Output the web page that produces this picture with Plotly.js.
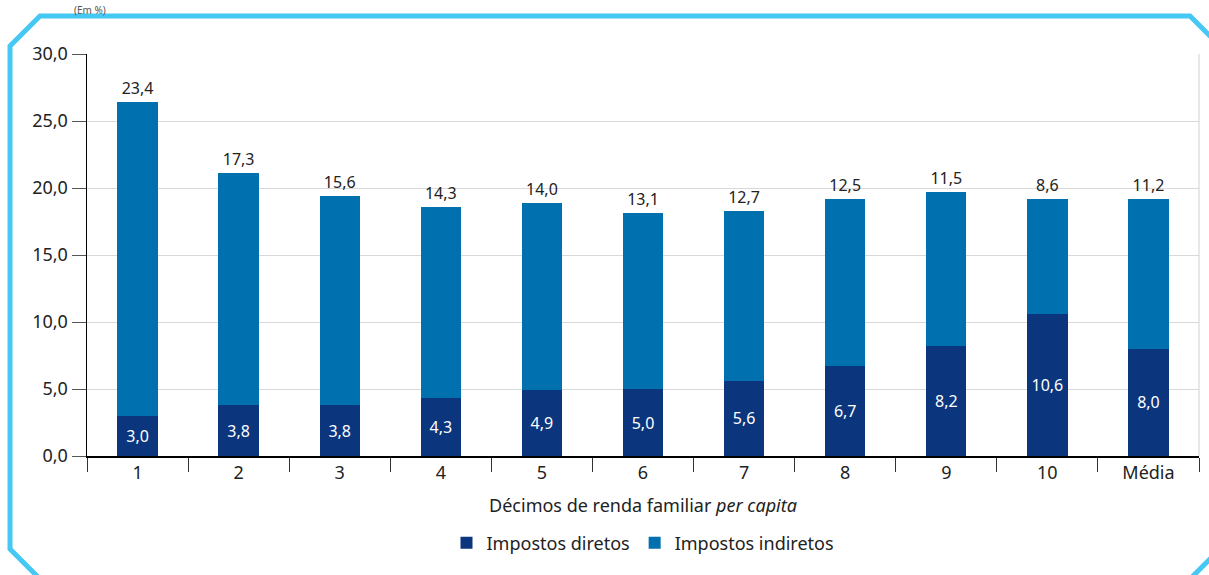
<!DOCTYPE html>
<html>
<head>
<meta charset="utf-8">
<script src="https://cdn.plot.ly/plotly-3.0.1.min.js"></script>
<style>
  html, body { margin: 0; padding: 0; background: #fff; }
  #chart { width: 1209px; height: 575px; }
</style>
</head>
<body>
<div id="chart"></div>
<script>
const categories = ["1", "2", "3", "4", "5", "6", "7", "8", "9", "10", "Média"];
const impostosDiretos = [3.0, 3.8, 3.8, 4.3, 4.9, 5.0, 5.6, 6.7, 8.2, 10.6, 8.0];
const impostosIndiretos = [23.4, 17.3, 15.6, 14.3, 14.0, 13.1, 12.7, 12.5, 11.5, 8.6, 11.2];
const seriesNames = ["Impostos diretos", "Impostos indiretos"];
const yTicks = [0, 5, 10, 15, 20, 25, 30];

const W = 1209, H = 575;
const M = { l: 87, r: 10, t: 54, b: 119 };
const pw = W - M.l - M.r, ph = H - M.t - M.b;
const px = x => (x - M.l) / pw;
const py = y => (H - M.b - y) / ph;

const FONT = "Noto Sans, Open Sans, sans-serif";

const traces = [
  {
    type: "bar",
    name: seriesNames[0],
    x: categories,
    y: impostosDiretos,
    marker: { color: "#0B357D" },
    width: 0.4,
    texttemplate: "%{y:.1f}",
    textposition: "inside",
    insidetextanchor: "middle",
    textangle: 0,
    textfont: { family: FONT, size: 16, color: "#ffffff" },
    hoverinfo: "skip"
  },
  {
    type: "bar",
    name: seriesNames[1],
    x: categories,
    y: impostosIndiretos,
    marker: { color: "#0071AE" },
    width: 0.4,
    texttemplate: "%{y:.1f}",
    textposition: "outside",
    textangle: 0,
    cliponaxis: false,
    textfont: { family: FONT, size: 16, color: "#222222" },
    hoverinfo: "skip"
  }
];

// decorative octagonal frame (pixel coords converted to paper)
const framePts = [[40,16],[1190,16],[1220,46],[1220,549],[1190,579],[40,579],[10,549],[10,46]];
const framePath = framePts.map((p, i) => (i ? "L" : "M") + px(p[0]).toFixed(5) + "," + py(p[1]).toFixed(5)).join(" ") + " Z";

const layout = {
  width: W, height: H,
  margin: M,
  paper_bgcolor: "#ffffff",
  plot_bgcolor: "#ffffff",
  barmode: "stack",
  separators: ",.",
  font: { family: FONT, size: 18, color: "#222222" },
  showlegend: true,
  legend: {
    orientation: "h",
    x: 0.5, xanchor: "center",
    y: py(543), yanchor: "middle",
    font: { family: FONT, size: 18, color: "#222222" },
    traceorder: "normal",
    itemwidth: 30,
    bgcolor: "rgba(0,0,0,0)"
  },
  xaxis: {
    type: "category",
    showline: true, linecolor: "#000000", linewidth: 1.5,
    ticks: "outside", tickson: "boundaries", ticklen: 14, tickcolor: "#333333", tickwidth: 1,
    showgrid: false, zeroline: false,
    tickfont: { family: FONT, size: 18, color: "#222222" },
    title: { text: "Décimos de renda familiar <i>per capita</i>", font: { family: FONT, size: 18, color: "#222222" }, standoff: 16 },
    fixedrange: true
  },
  yaxis: {
    range: [0, 30],
    tickvals: yTicks,
    tickformat: ".1f",
    showline: true, linecolor: "#000000", linewidth: 1.5,
    ticks: "outside", ticklen: 14, tickcolor: "#555555", tickwidth: 1,
    showgrid: true, gridcolor: "#d9d9d9", gridwidth: 1,
    zeroline: false,
    tickfont: { family: FONT, size: 18, color: "#222222" },
    fixedrange: true
  },
  shapes: [
    { type: "line", xref: "paper", yref: "paper", x0: 1, x1: 1, y0: 0, y1: 1, line: { color: "#d0d0d0", width: 1 } },
    { type: "path", xref: "paper", yref: "paper", path: framePath, line: { color: "#45C8F4", width: 5 }, fillcolor: "rgba(0,0,0,0)", layer: "above" }
  ],
  annotations: [
    { text: "(Em %)", xref: "paper", yref: "paper", x: px(72), y: py(1), xanchor: "left", yanchor: "top", showarrow: false, font: { family: FONT, size: 10, color: "#555555" } }
  ]
};

Plotly.newPlot("chart", traces, layout, { displayModeBar: false, staticPlot: true });
</script>
</body>
</html>
